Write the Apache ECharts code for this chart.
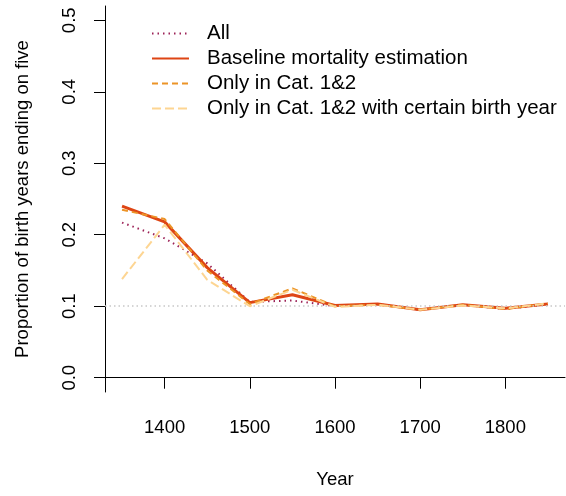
<!DOCTYPE html>
<html>
<head>
<meta charset="utf-8">
<script src="https://cdn.jsdelivr.net/npm/echarts@6/dist/echarts.min.js"></script>
<style>
	html, body { margin: 0; padding: 0; background: #fff; }
	#chart { width: 566px; height: 496px; }
</style>
</head>
<body>
<div id="chart"></div>
<script>
	// data
	const years = [1350, 1400, 1450, 1500, 1550, 1600, 1650, 1700, 1750, 1800, 1850]
	const allData = [0.217, 0.195, 0.160, 0.106, 0.108, 0.100, 0.103, 0.095, 0.102, 0.096, 0.103]
	const baseline = [0.240, 0.218, 0.154, 0.105, 0.116, 0.101, 0.103, 0.095, 0.102, 0.097, 0.103]
	const cat12 = [0.235, 0.222, 0.150, 0.103, 0.125, 0.100, 0.102, 0.095, 0.102, 0.096, 0.104]
	const certain = [0.138, 0.214, 0.137, 0.100, 0.123, 0.099, 0.102, 0.095, 0.101, 0.097, 0.104]
	const names = ['All', 'Baseline mortality estimation', 'Only in Cat. 1&2', 'Only in Cat. 1&2 with certain birth year']
	const xTicks = [1400, 1500, 1600, 1700, 1800]
	const yTicks = [0, 0.1, 0.2, 0.3, 0.4, 0.5]
	const refLevel = 0.1

	const font = 'Liberation Sans, Arial, Helvetica, sans-serif'
	const pairs = arr => years.map((y, i) => [y, arr[i]])

	const mkSeries = (name, arr, color, width, dash, z) => ({
		name: name,
		type: 'line',
		data: pairs(arr),
		symbol: 'none',
		z: z,
		lineStyle: { color: color, width: width, type: dash },
		itemStyle: { color: color }
	})

	const series = [
		mkSeries(names[0], allData, '#9C2257', 2, [1.5, 4], 2),
		mkSeries(names[1], baseline, '#DE4514', 3, 'solid', 3),
		mkSeries(names[2], cat12, '#EC9427', 2, [6, 4], 4),
		mkSeries(names[3], certain, '#FDD592', 2, [9, 4], 5)
	]
	// grey dotted reference line at 0.1
	series[0].markLine = {
		silent: true,
		symbol: 'none',
		label: { show: false },
		lineStyle: { color: '#c8c8c8', width: 1.5, type: [1.5, 3] },
		data: [{ yAxis: refLevel }]
	}

	const myChart = echarts.init(document.getElementById('chart'))
	myChart.setOption({
		animation: false,
		backgroundColor: '#fff',
		textStyle: { fontFamily: font },
		grid: { left: 105, right: 1, top: 6, bottom: 104 },
		legend: {
			orient: 'vertical',
			left: 151,
			top: 23,
			padding: 0,
			itemWidth: 37,
			itemHeight: 20,
			itemGap: 4,
			itemStyle: { opacity: 0 },
			data: names,
			textStyle: { fontSize: 20.5, color: '#000', fontFamily: font, padding: [0, 0, 0, 13] }
		},
		xAxis: {
			type: 'value',
			min: 1330,
			max: 1870,
			name: 'Year',
			nameLocation: 'middle',
			nameGap: 78,
			nameTextStyle: { fontSize: 18.5, color: '#000', fontFamily: font },
			splitLine: { show: false },
			axisLine: { show: true, lineStyle: { color: '#000', width: 1 } },
			axisTick: { show: true, customValues: xTicks, length: 11, lineStyle: { color: '#000' } },
			axisLabel: {
				customValues: xTicks,
				fontSize: 18.5,
				color: '#000',
				margin: 26,
				fontFamily: font,
				formatter: v => String(v)
			}
		},
		yAxis: {
			type: 'value',
			min: -0.02,
			max: 0.52,
			name: 'Proportion of birth years ending on five',
			nameLocation: 'middle',
			nameGap: 73,
			nameRotate: 90,
			nameTextStyle: { fontSize: 18.5, color: '#000', fontFamily: font },
			splitLine: { show: false },
			axisLine: { show: true, lineStyle: { color: '#000', width: 1 } },
			axisTick: { show: true, customValues: yTicks, length: 11, lineStyle: { color: '#000' } },
			axisLabel: {
				customValues: yTicks,
				rotate: 90,
				fontSize: 18.5,
				color: '#000',
				margin: 26,
				fontFamily: font,
				formatter: v => v.toFixed(1)
			}
		},
		series: series
	})
</script>
</body>
</html>
